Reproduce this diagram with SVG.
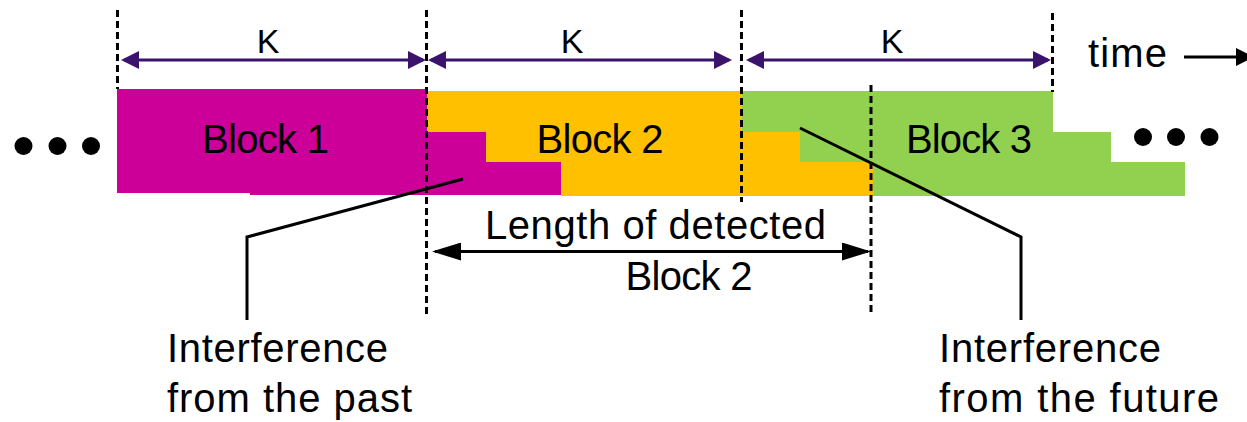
<svg xmlns="http://www.w3.org/2000/svg" width="1247" height="422" viewBox="0 0 1247 422">
  <style>
    .lbl { font-family: "Liberation Sans", Arial, sans-serif; fill: #000; }
    .big { font-size: 40px; }
    .k { font-size: 34px; }
    .dash { stroke: #000; stroke-width: 3; stroke-dasharray: 7 4; fill: none; }
    .span { stroke: #3c136c; stroke-width: 3; fill: none; }
    .lead { stroke: #000; stroke-width: 3; fill: none; }
    .dot { fill: #000; }
  </style>
  <defs>
    <marker id="purpleHead" markerUnits="userSpaceOnUse" markerWidth="18" markerHeight="18" refX="15" refY="9" orient="auto-start-reverse">
      <path d="M0,0 L18,9 L0,18 z" fill="#3c136c"/>
    </marker>
    <marker id="blackHead" markerUnits="userSpaceOnUse" markerWidth="29" markerHeight="18" refX="26" refY="9" orient="auto-start-reverse">
      <path d="M0,0 L29,9 L0,18 z" fill="#000"/>
    </marker>
    <marker id="timeHead" markerUnits="userSpaceOnUse" markerWidth="18" markerHeight="18" refX="15" refY="9" orient="auto">
      <path d="M0,0 L18,9 L0,18 z" fill="#000"/>
    </marker>
  </defs>

  <!-- continuation dots -->
  <g id="dots-left">
    <circle class="dot" cx="23.5" cy="146" r="9"/>
    <circle class="dot" cx="57.5" cy="146" r="9"/>
    <circle class="dot" cx="91" cy="146" r="9"/>
  </g>
  <g id="dots-right">
    <circle class="dot" cx="1143" cy="137" r="9"/>
    <circle class="dot" cx="1176" cy="137" r="9"/>
    <circle class="dot" cx="1209.5" cy="137" r="9"/>
  </g>

  <!-- staircase blocks; each block's tail spills into the next slot -->
  <g id="block1">
    <polygon fill="#cc0099" points="117,89 427,89 427,132 486,132 486,162 561,162 561,195 250,195 250,193 117,193"/>
    <text class="lbl big" x="265.5" y="153" text-anchor="middle" textLength="127">Block 1</text>
  </g>
  <g id="block2">
    <polygon fill="#ffc000" points="427,91 742,91 742,132 800,132 800,162 873,162 873,196 561,196 561,162 486,162 486,132 427,132"/>
    <text class="lbl big" x="600" y="153" text-anchor="middle" textLength="127">Block 2</text>
  </g>
  <g id="block3">
    <polygon fill="#92d050" points="742,91 1053,91 1053,132 1111,132 1111,162 1185,162 1185,196 873,196 873,162 800,162 800,132 742,132"/>
    <text class="lbl big" x="969" y="153" text-anchor="middle" textLength="126">Block 3</text>
  </g>

  <g id="connectors">
    <!-- slot boundaries -->
    <line class="dash" x1="117.5" y1="10" x2="117.5" y2="89"/>
    <line class="dash" x1="426.5" y1="10" x2="426.5" y2="316"/>
    <line class="dash" x1="741.5" y1="10" x2="741.5" y2="202"/>
    <line class="dash" x1="1052.5" y1="13" x2="1052.5" y2="92"/>
    <line class="dash" x1="871" y1="85" x2="871" y2="316"/>

    <!-- K spans -->
    <line class="span" x1="124" y1="60" x2="423" y2="60" marker-start="url(#purpleHead)" marker-end="url(#purpleHead)"/>
    <line class="span" x1="431" y1="60" x2="729" y2="60" marker-start="url(#purpleHead)" marker-end="url(#purpleHead)"/>
    <line class="span" x1="749" y1="60" x2="1048" y2="60" marker-start="url(#purpleHead)" marker-end="url(#purpleHead)"/>

    <!-- detected length of block 2 -->
    <line class="lead" x1="435" y1="251.5" x2="868" y2="251.5" marker-start="url(#blackHead)" marker-end="url(#blackHead)"/>

    <!-- time axis -->
    <line class="lead" x1="1184" y1="57" x2="1251" y2="57" marker-end="url(#timeHead)"/>

    <!-- interference callouts -->
    <polyline class="lead" points="247,320 247,237 463,179"/>
    <polyline class="lead" points="800,128 1021,237 1021,320"/>
  </g>

  <g id="span-labels">
    <text class="lbl k" x="268" y="53" text-anchor="middle">K</text>
    <text class="lbl k" x="572" y="53" text-anchor="middle">K</text>
    <text class="lbl k" x="892" y="53" text-anchor="middle">K</text>
    <text class="lbl big" x="1088" y="67" textLength="79">time</text>
  </g>

  <g id="detected-label">
    <text class="lbl big" x="655.5" y="239" text-anchor="middle" textLength="341">Length of detected</text>
    <text class="lbl big" x="689" y="290" text-anchor="middle" textLength="127">Block 2</text>
  </g>

  <g id="past-label">
    <text class="lbl big" x="167" y="362" textLength="221">Interference</text>
    <text class="lbl big" x="167" y="412" textLength="245">from the past</text>
  </g>

  <g id="future-label">
    <text class="lbl big" x="939" y="362" textLength="222">Interference</text>
    <text class="lbl big" x="939" y="412" textLength="280">from the future</text>
  </g>
</svg>
